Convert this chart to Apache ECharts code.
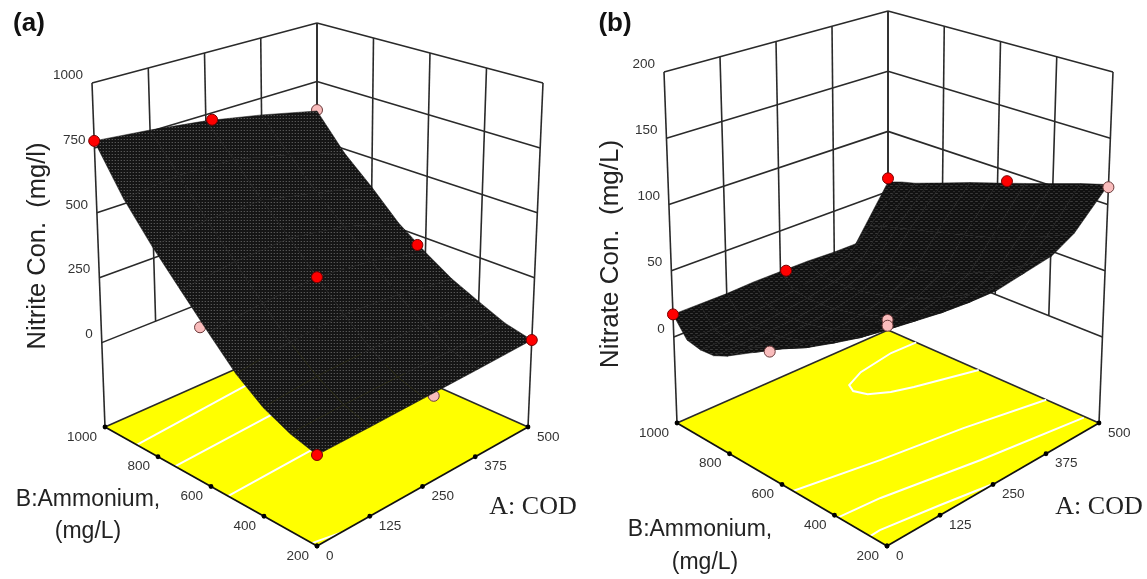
<!DOCTYPE html>
<html>
<head>
<meta charset="utf-8">
<style>html,body{margin:0;padding:0;background:#fff}#c{width:1147px;height:579px}</style>
<script src="https://cdn.jsdelivr.net/npm/echarts@6/dist/echarts.min.js"></script>
</head>
<body>
<div id="c"></div>
<script>
// ---------- tick labels ----------
const codTicks = [0, 125, 250, 375, 500];
const ammoniumTicks = [200, 400, 600, 800, 1000];
const nitriteTicks = [0, 250, 500, 750, 1000];
const nitrateTicks = [0, 50, 100, 150, 200];

// ---------- surface grids: rows = ammonium, columns = COD ----------
const nitriteCod = [0, 125, 250, 375, 500];
const nitriteAmmonium = [200, 300, 400, 500, 600, 700, 800, 900, 1000];
const nitriteSurface = [
  [-6, -4, 0, 4, 10],
  [20, 28, 32, 33, 34],
  [65, 85, 92, 88, 78],
  [138, 165, 178, 160, 126],
  [240, 265, 276, 250, 193],
  [350, 375, 385, 345, 271],
  [465, 490, 490, 440, 380],
  [600, 620, 610, 555, 483],
  [777, 755, 725, 680, 624]
];
const nitrateCod = [0, 62.5, 125, 187.5, 250, 312.5, 375, 425, 500];
const nitrateAmmonium = [200, 300, 400, 500, 600, 700, 800, 850, 900, 950, 1000];
const nitrateSurface = [
  [91, 87, 82, 78, 75, 78, 81, 90, 115],
  [77, 70, 65, 60, 58, 60, 66, 80, 109],
  [62, 54, 48, 45, 44, 46, 54, 72, 102],
  [47, 38, 33, 31, 31, 35, 44, 64, 95],
  [33, 25, 21, 20, 21, 25, 36, 58, 88],
  [20, 14, 11, 11, 13, 18, 30, 52, 81],
  [7, 5, 4, 5, 8, 13, 25, 46, 73],
  [2, 2, 3, 4, 7, 12, 22, 43, 69],
  [1, 1, 2, 4, 7, 11, 20, 40, 65],
  [3, 3, 4, 5, 8, 12, 18, 35, 62],
  [17, 17, 17, 18, 18, 18, 17, 17, 58]
];

// ---------- design points [COD, ammonium, concentration] ----------
const nitriteRed = [[0, 1000, 777], [264, 1000, 722], [250, 600, 276], [500, 630, 210], [500, 200, 10], [0, 200, -6]];
const nitritePink = [[500, 1000, 628], [0, 630, 245], [272, 200, -10]];
const nitrateRed = [[0, 1000, 17], [263, 1000, 17], [500, 1000, 61], [500, 566, 92]];
const nitratePink = [[500, 200, 113], [0, 638, 27], [0, 200, 91], [0, 200, 87]];

// ---------- floor contours, [COD, ammonium] ----------
const nitriteContours = [
  [[0, 880], [350, 925]],
  [[0, 736], [300, 760]],
  [[0, 536], [250, 550]],
  [[0, 219], [55, 200]]
];
const nitrateContours = [
  [[0, 264], [24, 266], [147, 234], [256, 200]],
  [[0, 386], [92, 373], [290, 311], [497, 253]],
  [[0, 558], [175, 506], [343, 462], [500, 400]],
  [[500, 893], [443, 897], [358, 876], [312, 846], [302, 815], [312, 776], [345, 741], [384, 716], [500, 656]]
];

// ---------- view set-up of each 3D box ----------
const panels = [
  { zLow: -325, zHigh: 1000, zTicks: nitriteTicks,
    floor: { F: [317, 546], R: [528, 427], L: [105, 427], K: [317, 333] },
    top: { F: [317, 168], R: [543, 83], L: [92, 83], K: [317, 23] },
    cod: nitriteCod, amm: nitriteAmmonium, surface: nitriteSurface,
    red: nitriteRed, pink: nitritePink, contours: nitriteContours, pinkOnTop: false,
    tex: { w: 3, h: 3, dots: [[1, 1, '#555'], [0, 1, '#2c2c2c']], bg: '#151515' } },
  { zLow: -65, zHigh: 200, zTicks: nitrateTicks,
    floor: { F: [887, 546], R: [1099, 423], L: [677, 423], K: [888, 330] },
    top: { F: [888, 162], R: [1113, 72], L: [664, 72], K: [888, 11] },
    cod: nitrateCod, amm: nitrateAmmonium, surface: nitrateSurface,
    red: nitrateRed, pink: nitratePink, contours: nitrateContours, pinkOnTop: true,
    tex: { w: 5, h: 4, dots: [[0, 1, '#333'], [1, 1, '#3a3a3a'], [2, 1, '#333'], [3, 3, '#2a2a2a'], [4, 3, '#2a2a2a']], bg: '#111' } }
];

function bil(c, u, v, i) {
  return (1 - u) * (1 - v) * c.F[i] + u * (1 - v) * c.R[i] + (1 - u) * v * c.L[i] + u * v * c.K[i];
}
function project(p, A, B, z) {
  const u = A / 500, v = (B - 200) / 800, t = (z - p.zLow) / (p.zHigh - p.zLow);
  return [0, 1].map(i => (1 - t) * bil(p.floor, u, v, i) + t * bil(p.top, u, v, i));
}
function makeTexture(t) {
  const cv = document.createElement('canvas');
  cv.width = t.w; cv.height = t.h;
  const g = cv.getContext('2d');
  g.fillStyle = t.bg; g.fillRect(0, 0, t.w, t.h);
  t.dots.forEach(d => { g.fillStyle = d[2]; g.fillRect(d[0], d[1], 1, 1); });
  return cv;
}

const LINE = '#2a2a2a';
const TICK_FONT = '13.5px "Liberation Sans", Arial, sans-serif';
const series = [];
function layer(z, data, render) {
  series.push({ type: 'custom', coordinateSystem: 'cartesian2d', z: z, clip: false, silent: true,
    animation: false, data: data, encode: { x: [], y: [] }, renderItem: render });
}

panels.forEach(p => {
  const zMin = p.zTicks[0], zMax = p.zTicks[p.zTicks.length - 1];
  const pt = (api, A, B, z) => { const s = project(p, A, B, z); return api.coord(s); };
  const fl = (api, A, B) => pt(api, A, B, p.zLow);

  // floor
  layer(2, [0], (params, api) => ({ type: 'polygon',
    shape: { points: [fl(api, 0, 200), fl(api, 500, 200), fl(api, 500, 1000), fl(api, 0, 1000)] },
    style: { fill: '#ffff00' } }));

  // wall grid lines
  const segs = [];
  p.zTicks.forEach(z => {
    segs.push([[0, 1000, z], [500, 1000, z]]);
    segs.push([[500, 1000, z], [500, 200, z]]);
  });
  codTicks.forEach((a, i) => {
    const bottom = (i === 0 || i === 4) ? p.zLow : zMin;
    segs.push([[a, 1000, bottom], [a, 1000, zMax]]);
  });
  ammoniumTicks.forEach((b, i) => {
    const bottom = i === 0 ? p.zLow : zMin;
    segs.push([[500, b, bottom], [500, b, zMax]]);
  });
  segs.push([[0, 1000, p.zLow], [500, 1000, p.zLow]]);
  segs.push([[500, 1000, p.zLow], [500, 200, p.zLow]]);
  layer(3, segs, (params, api) => {
    const s = segs[params.dataIndex], a = pt(api, ...s[0]), b = pt(api, ...s[1]);
    return { type: 'line', shape: { x1: a[0], y1: a[1], x2: b[0], y2: b[1] },
      style: { stroke: LINE, lineWidth: 1.6 } };
  });

  // floor contours
  layer(4, p.contours, (params, api) => ({ type: 'polyline',
    shape: { points: p.contours[params.dataIndex].map(c => fl(api, c[0], c[1])) },
    style: { stroke: '#ffffff', lineWidth: 2, fill: 'none' } }));

  // front floor edges
  const edges = [[[0, 200], [500, 200]], [[0, 200], [0, 1000]]];
  layer(5, edges, (params, api) => {
    const e = edges[params.dataIndex], a = fl(api, ...e[0]), b = fl(api, ...e[1]);
    return { type: 'line', shape: { x1: a[0], y1: a[1], x2: b[0], y2: b[1] },
      style: { stroke: '#111', lineWidth: 1.8 } };
  });

  const dot = (color, stroke, r) => (list) => (params, api) => {
    const d = list[params.dataIndex], c = pt(api, d[0], d[1], d[2]);
    return { type: 'circle', shape: { cx: c[0], cy: c[1], r: r },
      style: { fill: color, stroke: stroke, lineWidth: 1 } };
  };
  const pinkDot = dot('#f9bcbc', '#6a3a3a', 5.5);
  const redDot = dot('#ff0000', '#7a0000', 5.5);
  if (!p.pinkOnTop) layer(6, p.pink, pinkDot(p.pink));

  // surface, painted from the far corner to the near corner
  const tex = { image: makeTexture(p.tex), repeat: 'repeat' };
  const cells = [];
  for (let r = p.amm.length - 2; r >= 0; r--) {
    for (let c = p.cod.length - 2; c >= 0; c--) cells.push([r, c]);
  }
  layer(7, cells, (params, api) => {
    const [r, c] = cells[params.dataIndex];
    const q = [[c, r], [c + 1, r], [c + 1, r + 1], [c, r + 1]]
      .map(k => pt(api, p.cod[k[0]], p.amm[k[1]], p.surface[k[1]][k[0]]));
    return { type: 'polygon', shape: { points: q },
      style: { fill: tex, stroke: '#171717', lineWidth: 0.5 } };
  });

  if (p.pinkOnTop) layer(8, p.pink, pinkDot(p.pink));
  layer(9, p.red, redDot(p.red));

  // floor tick marks
  const marks = codTicks.map(a => [a, 200]).concat(ammoniumTicks.map(b => [0, b]));
  layer(10, marks, (params, api) => {
    const m = marks[params.dataIndex], c = fl(api, m[0], m[1]);
    return { type: 'circle', shape: { cx: c[0], cy: c[1], r: 2.4 }, style: { fill: '#000' } };
  });

  // tick labels
  const text = (c, dx, dy, t, align) => ({ type: 'text',
    style: { x: c[0] + dx, y: c[1] + dy, text: String(t), font: TICK_FONT, fill: '#333', align: align, verticalAlign: 'middle' } });
  layer(11, codTicks, (params, api) => {
    const a = codTicks[params.dataIndex];
    return text(fl(api, a, 200), 9, 10, a, 'left');
  });
  layer(11, ammoniumTicks, (params, api) => {
    const b = ammoniumTicks[params.dataIndex];
    return text(fl(api, 0, b), -8, 10, b, 'right');
  });
  layer(11, p.zTicks, (params, api) => {
    const z = p.zTicks[params.dataIndex];
    return text(pt(api, 0, 1000, z), -9, -8, z, 'right');
  });
});

const SANS = '"Liberation Sans", Arial, sans-serif';
function label(x, y, t, font, color, rotation) {
  return { type: 'text', x: x, y: y, silent: true, z: 20, rotation: rotation || 0,
    style: { text: t, font: font, fill: color || '#222', align: 'center', verticalAlign: 'middle' } };
}
const graphics = [
  label(29, 24, '(a)', 'bold 26px ' + SANS, '#111'),
  label(615, 24, '(b)', 'bold 26px ' + SANS, '#111'),
  label(38, 246, 'Nitrite Con.  (mg/l)', '25.5px ' + SANS, '#222', Math.PI / 2),
  label(611, 254, 'Nitrate Con.  (mg/L)', '26px ' + SANS, '#222', Math.PI / 2),
  label(88, 500, 'B:Ammonium,', '23px ' + SANS),
  label(88, 532, '(mg/L)', '23px ' + SANS),
  label(700, 530, 'B:Ammonium,', '23px ' + SANS),
  label(705, 563, '(mg/L)', '23px ' + SANS),
  label(533, 507, 'A: COD', '26px "Liberation Serif", serif'),
  label(1099, 507, 'A: COD', '26px "Liberation Serif", serif')
];

const chart = echarts.init(document.getElementById('c'), null, { renderer: 'canvas', width: 1147, height: 579 });
chart.setOption({
  animation: false,
  backgroundColor: '#ffffff',
  grid: { left: 0, right: 0, top: 0, bottom: 0, containLabel: false },
  xAxis: { type: 'value', min: 0, max: 1147, show: false },
  yAxis: { type: 'value', min: 0, max: 579, inverse: true, show: false },
  series: series,
  graphic: graphics
});
</script>
</body>
</html>
